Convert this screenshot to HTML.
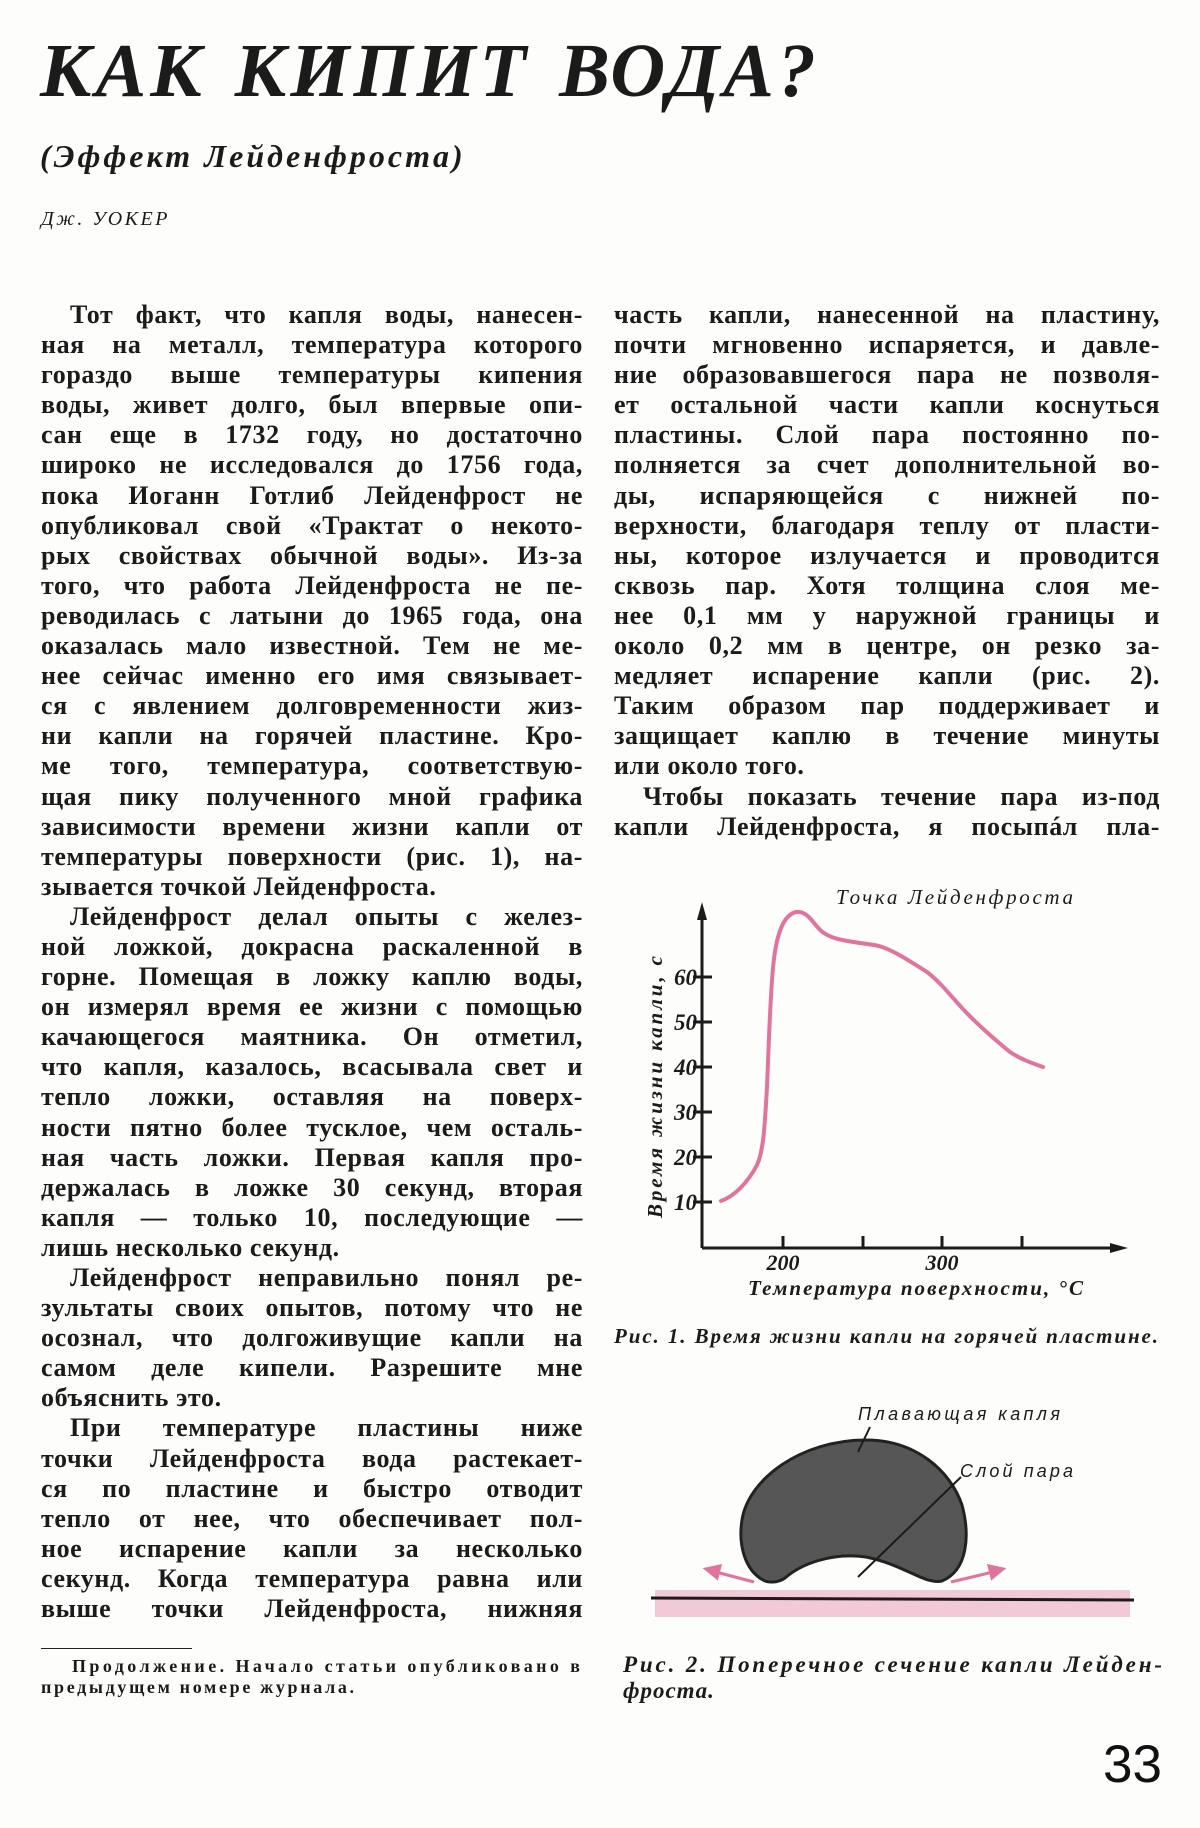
<!DOCTYPE html>
<html><head><meta charset="utf-8">
<style>
html,body{margin:0;padding:0;background:#fdfdfc;}
body{width:1200px;height:1828px;position:relative;overflow:hidden;color:#1b1b1b;font-family:"Liberation Serif","Noto Serif CJK SC",serif;}
.col{position:absolute;top:300px;font-weight:bold;font-size:26px;letter-spacing:0.6px;line-height:30.1px;}
.col div{white-space:nowrap;text-align:justify;text-align-last:justify;}
.col div.l{text-align-last:left;}
.col div.i{padding-left:29px;}
#left{left:41px;width:542px;}
#right{left:614px;width:546px;}
</style></head><body>
<div style="position:absolute;left:40px;top:28px;font:bold italic 76px 'Liberation Serif',serif;letter-spacing:4px;word-spacing:6px;white-space:nowrap;">КАК КИПИТ ВОДА?</div>
<div style="position:absolute;left:40px;top:138px;font:bold italic 32px 'Liberation Serif',serif;letter-spacing:3px;white-space:nowrap;">(Эффект Лейденфроста)</div>
<div style="position:absolute;left:41px;top:208px;font:italic 20px 'Liberation Serif',serif;letter-spacing:2.5px;white-space:nowrap;">Дж. УОКЕР</div>

<div class="col" id="left">
<div class="i">Тот факт, что капля воды, нанесен-</div>
<div>ная на металл, температура которого</div>
<div>гораздо выше температуры кипения</div>
<div>воды, живет долго, был впервые опи-</div>
<div>сан еще в 1732 году, но достаточно</div>
<div>широко не исследовался до 1756 года,</div>
<div>пока Иоганн Готлиб Лейденфрост не</div>
<div>опубликовал свой «Трактат о некото-</div>
<div>рых свойствах обычной воды». Из-за</div>
<div>того, что работа Лейденфроста не пе-</div>
<div>реводилась с латыни до 1965 года, она</div>
<div>оказалась мало известной. Тем не ме-</div>
<div>нее сейчас именно его имя связывает-</div>
<div>ся с явлением долговременности жиз-</div>
<div>ни капли на горячей пластине. Кро-</div>
<div>ме того, температура, соответствую-</div>
<div>щая пику полученного мной графика</div>
<div>зависимости времени жизни капли от</div>
<div>температуры поверхности (рис. 1), на-</div>
<div class="l">зывается точкой Лейденфроста.</div>
<div class="i">Лейденфрост делал опыты с желез-</div>
<div>ной ложкой, докрасна раскаленной в</div>
<div>горне. Помещая в ложку каплю воды,</div>
<div>он измерял время ее жизни с помощью</div>
<div>качающегося маятника. Он отметил,</div>
<div>что капля, казалось, всасывала свет и</div>
<div>тепло ложки, оставляя на поверх-</div>
<div>ности пятно более тусклое, чем осталь-</div>
<div>ная часть ложки. Первая капля про-</div>
<div>держалась в ложке 30 секунд, вторая</div>
<div>капля — только 10, последующие —</div>
<div class="l">лишь несколько секунд.</div>
<div class="i">Лейденфрост неправильно понял ре-</div>
<div>зультаты своих опытов, потому что не</div>
<div>осознал, что долгоживущие капли на</div>
<div>самом деле кипели. Разрешите мне</div>
<div class="l">объяснить это.</div>
<div class="i">При температуре пластины ниже</div>
<div>точки Лейденфроста вода растекает-</div>
<div>ся по пластине и быстро отводит</div>
<div>тепло от нее, что обеспечивает пол-</div>
<div>ное испарение капли за несколько</div>
<div>секунд. Когда температура равна или</div>
<div>выше точки Лейденфроста, нижняя</div>
</div>

<div class="col" id="right">
<div>часть капли, нанесенной на пластину,</div>
<div>почти мгновенно испаряется, и давле-</div>
<div>ние образовавшегося пара не позволя-</div>
<div>ет остальной части капли коснуться</div>
<div>пластины. Слой пара постоянно по-</div>
<div>полняется за счет дополнительной во-</div>
<div>ды, испаряющейся с нижней по-</div>
<div>верхности, благодаря теплу от пласти-</div>
<div>ны, которое излучается и проводится</div>
<div>сквозь пар. Хотя толщина слоя ме-</div>
<div>нее 0,1 мм у наружной границы и</div>
<div>около 0,2 мм в центре, он резко за-</div>
<div>медляет испарение капли (рис. 2).</div>
<div>Таким образом пар поддерживает и</div>
<div>защищает каплю в течение минуты</div>
<div class="l">или около того.</div>
<div class="i">Чтобы показать течение пара из-под</div>
<div>капли Лейденфроста, я посыпáл пла-</div>
</div>

<div style="position:absolute;left:41px;top:1648px;width:151px;height:1px;background:#222;"></div>

<svg width="1200" height="1828" style="position:absolute;left:0;top:0" xmlns="http://www.w3.org/2000/svg">
<g font-family="Liberation Serif, serif" font-weight="bold" font-size="18" fill="#1b1b1b">
<text x="72" y="1672" textLength="508" lengthAdjust="spacing">Продолжение. Начало статьи опубликовано в</text>
<text x="41" y="1693" textLength="313" lengthAdjust="spacing">предыдущем номере журнала.</text>
</g>
<g font-family="Liberation Serif, serif" font-style="italic" fill="#1b1b1b">
<text x="836" y="904" font-size="21" textLength="237" lengthAdjust="spacing">Точка Лейденфроста</text>
<g font-size="23" font-weight="bold" text-anchor="end">
<text x="697" y="985">60</text>
<text x="697" y="1030">50</text>
<text x="697" y="1075">40</text>
<text x="697" y="1120">30</text>
<text x="697" y="1165">20</text>
<text x="697" y="1210">10</text>
</g>
<text x="783" y="1270" font-size="22" font-weight="bold" text-anchor="middle">200</text>
<text x="942" y="1270" font-size="22" font-weight="bold" text-anchor="middle">300</text>
<text x="748" y="1295" font-size="21" font-weight="bold" textLength="335" lengthAdjust="spacing">Температура поверхности, °С</text>
<text transform="translate(662,1218) rotate(-90)" font-size="21" font-weight="bold" textLength="262" lengthAdjust="spacing">Время жизни капли, с</text>
<text x="614" y="1343" font-size="21" font-weight="bold" textLength="544" lengthAdjust="spacing">Рис. 1. Время жизни капли на горячей пластине.</text>
<text x="623" y="1672" font-size="23" font-weight="bold" textLength="539" lengthAdjust="spacing">Рис. 2. Поперечное сечение капли Лейден-</text>
<text x="623" y="1698" font-size="23" font-weight="bold" letter-spacing="1">фроста.</text>
</g>
<g stroke="#1b1b1b" stroke-width="3" fill="none">
<line x1="702" y1="910" x2="702" y2="1248"/>
<line x1="702" y1="1248" x2="1115" y2="1248"/>
<line x1="693" y1="977" x2="712" y2="977"/>
<line x1="693" y1="1022" x2="712" y2="1022"/>
<line x1="693" y1="1067" x2="712" y2="1067"/>
<line x1="693" y1="1112" x2="712" y2="1112"/>
<line x1="693" y1="1157" x2="712" y2="1157"/>
<line x1="693" y1="1202" x2="712" y2="1202"/>
<line x1="783" y1="1236" x2="783" y2="1248"/>
<line x1="863" y1="1236" x2="863" y2="1248"/>
<line x1="942" y1="1236" x2="942" y2="1248"/>
<line x1="1022" y1="1236" x2="1022" y2="1248"/>
</g>
<polygon points="702,902 697,920 707,920" fill="#1b1b1b"/>
<polygon points="1128,1248 1110,1243 1110,1253" fill="#1b1b1b"/>
<path d="M721,1201 C735,1196 748,1182 757,1165 C764,1150 765,1120 767,1087 C769,1040 770,1000 773,968 C776,935 783,915 796,912 C809,910 815,928 824,933 C832,939 845,941 874,945 C888,947 905,958 927,972 C940,982 950,995 962,1008 C975,1022 988,1034 1010,1052 C1022,1060 1032,1063 1043,1067" fill="none" stroke="#e0749c" stroke-width="4" stroke-linecap="round"/>

<rect x="655" y="1590" width="475" height="27" fill="#f0bfd0" opacity="0.85"/>
<line x1="651" y1="1598" x2="1134" y2="1600" stroke="#1b1b1b" stroke-width="3"/>
<path d="M763,1580 C745,1570 738,1545 742,1520 C748,1480 800,1440 866,1440 C915,1440 950,1470 962,1505 C970,1535 968,1570 942,1581 C925,1585 905,1565 866,1557 C830,1552 800,1565 785,1578 C778,1583 768,1583 763,1580 Z" fill="#565656" stroke="#222" stroke-width="3"/>
<line x1="870" y1="1427" x2="858" y2="1452" stroke="#1b1b1b" stroke-width="2"/>
<line x1="961" y1="1477" x2="858" y2="1577" stroke="#1b1b1b" stroke-width="2"/>
<g stroke="#e0749c" stroke-width="3" fill="#e0749c">
<line x1="754" y1="1582" x2="716" y2="1572"/>
<polygon points="706,1569 720,1566 717,1578"/>
<line x1="951" y1="1582" x2="993" y2="1572"/>
<polygon points="1003,1569 989,1566 992,1578"/>
</g>
<g font-family="Liberation Sans, sans-serif" font-style="italic" fill="#1b1b1b" font-size="18">
<text x="858" y="1420" textLength="202" lengthAdjust="spacing">Плавающая капля</text>
<text x="960" y="1477" textLength="113" lengthAdjust="spacing">Слой пара</text>
</g>
<text x="1162" y="1782" font-family="Liberation Sans, sans-serif" font-size="53" text-anchor="end" fill="#111">33</text>
</svg>
</body></html>
